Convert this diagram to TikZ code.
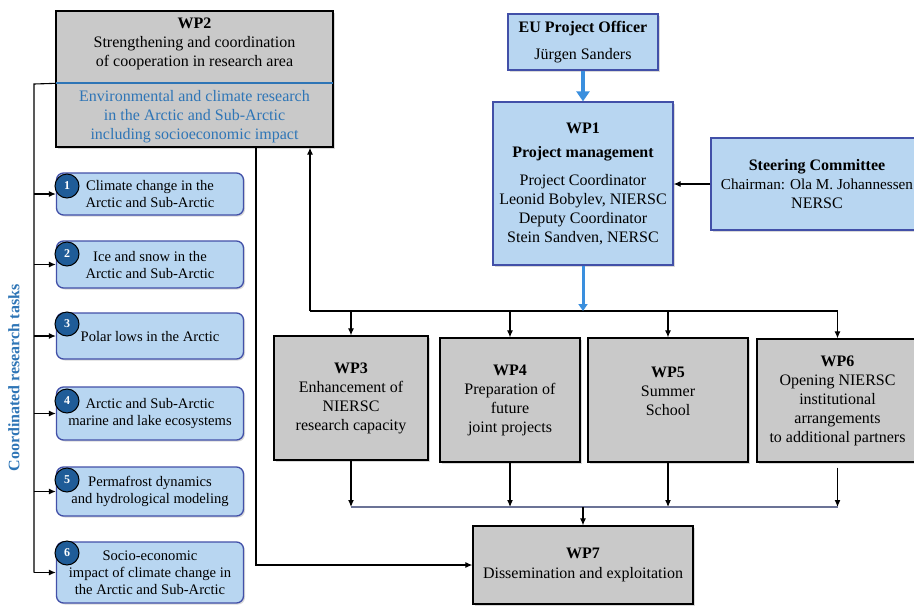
\documentclass[tikz,border=0pt]{standalone}
\usepackage{fontspec}
\setmainfont{Liberation Serif}
\usepackage{xcolor}
\usepackage{tikz}
\usetikzlibrary{positioning,arrows.meta,shadows}

\definecolor{boxgray}{RGB}{201,201,201}
\definecolor{boxblue}{RGB}{184,214,241}
\definecolor{edgeblue}{RGB}{66,80,168}
\definecolor{numblue}{RGB}{31,92,152}
\definecolor{txtblue}{RGB}{46,117,182}
\definecolor{arrblue}{RGB}{58,143,222}
\definecolor{busgray}{RGB}{107,115,150}

\tikzset{
  shade/.style={drop shadow={shadow xshift=1.5pt, shadow yshift=-1.5pt, opacity=0.3}},
  wpbox/.style={draw=black, line width=1.3pt, fill=boxgray, align=center, inner sep=2pt, shade},
  bluebox/.style={draw=edgeblue, line width=1.3pt, fill=boxblue, align=center, inner sep=2pt, shade},
  taskbox/.style={bluebox, rounded corners=7pt, minimum width=187pt, font=\fontsize{14.6}{17}\selectfont},
  num/.style={circle, draw=black, line width=1pt, fill=numblue, text=white, inner sep=0pt,
    minimum size=24pt, font=\fontsize{12}{12}\selectfont\bfseries},
  bigarr/.style={arrblue, line width=4pt, -{Triangle[width=13pt,length=10pt]}},
  midarr/.style={arrblue, line width=3pt, -{Triangle[width=9pt,length=7pt]}},
}

\begin{document}
\begin{tikzpicture}[x=1pt, y=-1pt, >={Latex[length=7pt,width=6pt]}, line width=1.1pt,
    font=\fontsize{16}{19}\selectfont]
    \useasboundingbox (0,0) rectangle (914,606);

    % WP2 and its research area
    \node[wpbox, minimum width=277pt, minimum height=136pt] (wp2) at (194.5,79) {};
    \node[align=center] (wp2a) at (194.5,44) {\textbf{WP2}\\Strengthening and coordination\\of cooperation in research area};
    \node[align=center, text=txtblue] (wp2b) at (194.5,117) {Environmental and climate research\\in the Arctic and Sub-Arctic\\including socioeconomic impact};
    \draw[txtblue, line width=1.8pt] ([yshift=-73pt,xshift=1pt]wp2.north west) -- ([yshift=-73pt,xshift=-1pt]wp2.north east);

    % coordinated research tasks
    \coordinate (brk) at (34,84);
    \node[rotate=90, text=txtblue, font=\fontsize{16}{19}\selectfont\bfseries] (side) at (14,378) {Coordinated research tasks};
    \foreach \i/\y/\h/\ny/\txt in {
        1/194/42/186/{Climate change in the\\Arctic and Sub-Arctic},
        2/264.5/47/254/{Ice and snow in the\\Arctic and Sub-Arctic},
        3/336/46/324/{Polar lows in the Arctic},
        4/413.5/53/401/{Arctic and Sub-Arctic\\marine and lake ecosystems},
        5/491.5/49/480/{Permafrost dynamics\\and hydrological modeling},
        6/572.5/61/553/{Socio-economic\\impact of climate change in\\the Arctic and Sub-Arctic}} {
      \node[taskbox, minimum height=\h pt] (t\i) at (150,\y) {\txt};
      \node[num] (n\i) at (67,\ny) {\i};
      \draw[->] (brk |- t\i.west) -- (t\i.west);
    }
    \draw ([yshift=-73pt]wp2.north west) -- (brk) -- (brk |- t6.west);

    % management
    \node[bluebox, minimum width=150pt, minimum height=56pt] (eu) at (583,42) {\textbf{EU Project Officer}\\[8pt]Jürgen Sanders};
    \node[bluebox, minimum width=180pt, minimum height=163pt] (wp1) at (583,183.5) {\textbf{WP1}\\[5pt]\textbf{Project management}\\[9pt]Project Coordinator\\Leonid Bobylev, NIERSC\\Deputy Coordinator\\Stein Sandven, NERSC};
    \node[bluebox, minimum width=212pt, minimum height=92pt] (steer) at (817,184) {\textbf{Steering Committee}\\{\fontsize{15.2}{19}\selectfont Chairman: Ola M. Johannessen}\\NERSC};
    \draw[bigarr] (eu) -- (wp1);
    \draw[->] (steer.west) -- (steer.west -| wp1.east);

    % work packages 3-6
    \node[wpbox, minimum width=154pt, minimum height=124pt] (wp3) at (351,398) {\textbf{WP3}\\Enhancement of\\NIERSC\\research capacity};
    \node[wpbox, minimum width=140pt, minimum height=124pt] (wp4) at (510,400) {\textbf{WP4}\\Preparation of\\future\\joint projects};
    \node[wpbox, minimum width=160pt, minimum height=124pt] (wp5) at (668,400) {};
    \node[align=center] (wp5t) at (668,391) {\textbf{WP5}\\Summer\\School};
    \node[wpbox, minimum width=161pt, minimum height=123pt] (wp6) at (837.5,400.5) {\textbf{WP6}\\Opening NIERSC\\institutional\\arrangements\\to additional partners};
    \node[wpbox, minimum width=220pt, minimum height=78pt] (wp7) at (583,565) {\textbf{WP7}\\[1pt]Dissemination and exploitation};

    % upper bus
    \coordinate (bus) at (310,311);
    \draw[->] (bus) -- (bus |- wp2.south);
    \draw (bus) -- (bus -| wp6.north);
    \draw[midarr] (wp1) -- (wp1.south |- bus);
    \foreach \w in {3,...,6}
      \draw[->] (bus -| wp\w.north) -- (wp\w.north);

    % lower bus
    \coordinate (low) at (583,507);
    \foreach \w in {3,4,5}
      \draw[->] (wp\w.south) -- (wp\w.south |- low);
    \draw[->] ([yshift=-5pt]wp6.south) -- (wp6.south |- low);
    \draw[busgray, line width=1.5pt] (wp3.south |- low) -- (wp6.south |- low);
    \draw[->] (low) -- (wp7.north);
    \draw[->] ([xshift=61.5pt]wp2.south) |- (wp7.west);
\end{tikzpicture}
\end{document}
